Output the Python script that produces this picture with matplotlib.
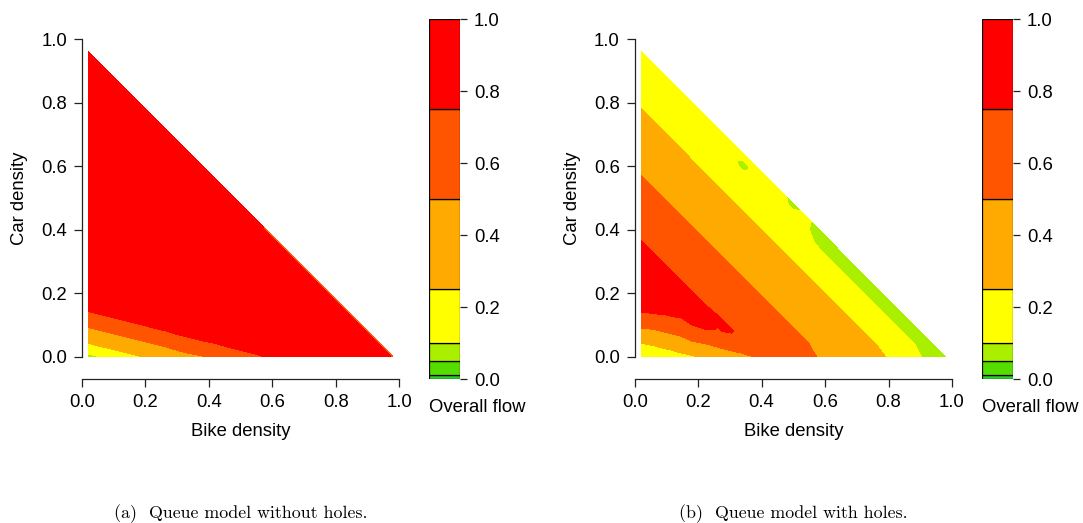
import numpy as np
import matplotlib
matplotlib.use('Agg')
import matplotlib.pyplot as plt
import matplotlib.tri as mtri
from matplotlib.ticker import FormatStrFormatter


# 1. Data
# bike   -   bike density of the grid columns
# car    -   car density of the grid rows
# each row j holds the overall flow (in percent) for bike[0 .. 24-j], so bike + car <= 0.98
bike = [0.02, 0.06, 0.10, 0.14, 0.18, 0.22, 0.26, 0.30, 0.34, 0.38, 0.42, 0.46, 0.50,
        0.54, 0.58, 0.62, 0.66, 0.70, 0.74, 0.78, 0.82, 0.86, 0.90, 0.94, 0.98]
car = [0.00, 0.04, 0.08, 0.12, 0.16, 0.20, 0.24, 0.28, 0.32, 0.36, 0.40, 0.44, 0.48,
       0.52, 0.56, 0.60, 0.64, 0.68, 0.72, 0.76, 0.80, 0.84, 0.88, 0.92, 0.96]

# (a) queue model without holes
flow_a = [
    [6, 11, 14, 19, 24, 29, 34, 40, 45, 49, 55, 60, 65, 70, 76, 90, 90, 90, 90, 90, 90, 90, 90, 90, 72],
    [24, 29, 34, 39, 44, 49, 54, 60, 65, 70, 74, 80, 85, 90, 90, 90, 90, 90, 90, 90, 90, 90, 90, 72],
    [44, 49, 54, 59, 64, 69, 74, 80, 85, 90, 90, 90, 90, 90, 90, 90, 90, 90, 90, 90, 90, 90, 72],
    [64, 69, 74, 79, 84, 90, 90, 90, 90, 90, 90, 90, 90, 90, 90, 90, 90, 90, 90, 90, 90, 72],
    [84, 89, 90, 90, 90, 90, 90, 90, 90, 90, 90, 90, 90, 90, 90, 90, 90, 90, 90, 90, 72],
    [90, 90, 90, 90, 90, 90, 90, 90, 90, 90, 90, 90, 90, 90, 90, 90, 90, 90, 90, 72],
    [90, 90, 90, 90, 90, 90, 90, 90, 90, 90, 90, 90, 90, 90, 90, 90, 90, 90, 72],
    [90, 90, 90, 90, 90, 90, 90, 90, 90, 90, 90, 90, 90, 90, 90, 90, 90, 72],
    [90, 90, 90, 90, 90, 90, 90, 90, 90, 90, 90, 90, 90, 90, 90, 90, 72],
    [90, 90, 90, 90, 90, 90, 90, 90, 90, 90, 90, 90, 90, 90, 90, 72],
    [90, 90, 90, 90, 90, 90, 90, 90, 90, 90, 90, 90, 90, 90, 72],
    [90, 90, 90, 90, 90, 90, 90, 90, 90, 90, 90, 90, 90, 90],
    [90, 90, 90, 90, 90, 90, 90, 90, 90, 90, 90, 90, 90],
    [90, 90, 90, 90, 90, 90, 90, 90, 90, 90, 90, 90],
    [90, 90, 90, 90, 90, 90, 90, 90, 90, 90, 90],
    [90, 90, 90, 90, 90, 90, 90, 90, 90, 90],
    [90, 90, 90, 90, 90, 90, 90, 90, 90],
    [90, 90, 90, 90, 90, 90, 90, 90],
    [90, 90, 90, 90, 90, 90, 90],
    [90, 90, 90, 90, 90, 90],
    [90, 90, 90, 90, 90],
    [90, 90, 90, 90],
    [90, 90, 90],
    [90, 90],
    [90],
]

# (b) queue model with holes
flow_b = [
    [9, 12, 16, 19, 23, 28, 34, 40, 45, 51, 57, 63, 61, 56, 49, 45, 40, 35, 30, 26, 22, 16, 10.2, 8.5, 7],
    [24, 27, 31, 37, 44, 49, 55, 60, 64, 68, 65, 61, 56, 51, 47, 42, 37, 32, 27, 23, 18, 12, 8.5, 7],
    [45, 47, 52, 57, 72, 74, 74, 77, 70, 65, 61, 56, 51, 47, 42, 37, 32, 27, 23, 18, 12, 8.5, 7],
    [65, 67, 70, 74, 78, 80, 77, 70, 65, 61, 56, 51, 47, 42, 37, 32, 27, 23, 18, 12, 8.5, 7],
    [85, 87, 88, 84, 80, 76, 70, 65, 61, 56, 51, 47, 42, 37, 32, 27, 23, 18, 12, 8.5, 7],
    [93, 88, 84, 80, 76, 70, 65, 61, 56, 51, 47, 42, 37, 32, 27, 23, 18, 12, 8.5, 7],
    [88, 84, 80, 76, 70, 65, 61, 56, 51, 47, 42, 37, 32, 27, 23, 18, 12, 8.5, 7],
    [84, 80, 76, 70, 65, 61, 56, 51, 47, 42, 37, 32, 27, 23, 18, 12, 8.5, 7],
    [80, 76, 70, 65, 61, 56, 51, 47, 42, 37, 32, 27, 23, 18, 12, 8.5, 7],
    [76, 70, 65, 61, 56, 51, 47, 42, 37, 32, 27, 23, 18, 13, 8.5, 7],
    [70, 65, 61, 56, 51, 47, 42, 37, 32, 27, 23, 18, 14, 11, 7],
    [65, 61, 56, 51, 47, 42, 37, 32, 27, 23, 18, 14, 13, 12],
    [61, 56, 51, 47, 42, 37, 32, 27, 23, 18, 14, 13, 8],
    [56, 51, 47, 42, 37, 32, 27, 23, 18, 14, 13, 12],
    [51, 47, 42, 37, 32, 27, 23, 18, 14, 13, 12],
    [47, 42, 37, 32, 27, 23, 18, 14, 8, 12],
    [42, 37, 32, 27, 23, 18, 14, 13, 12],
    [37, 32, 27, 23, 18, 14, 13, 12],
    [32, 27, 23, 18, 14, 13, 12],
    [27, 23, 18, 14, 13, 12],
    [23, 18, 14, 13, 12],
    [18, 14, 13, 12],
    [14, 13, 12],
    [13, 12],
    [12],
]

# colour levels of the overall flow and their colours
levels = [0, 0.01, 0.05, 0.1, 0.25, 0.5, 0.75, 1.0]
colors = ['#2ecc2e', '#55dd00', '#aaee00', '#ffff00', '#ffaa00', '#ff5500', '#ff0000']
cbar_ticks = [0.0, 0.2, 0.4, 0.6, 0.8, 1.0]
captions = ['(a)  Queue model without holes.', '(b)  Queue model with holes.']


# 2. Build a triangulation of the triangular domain
def triangulate(rows):
    xs, ys, zs, idx = [], [], [], {}
    for j, row in enumerate(rows):
        for i, val in enumerate(row):
            idx[(i, j)] = len(xs)
            xs.append(bike[i])
            ys.append(car[j])
            zs.append(val / 100.0)
    tris = []
    for (i, j) in idx:
        a, b, c, d = (i, j), (i + 1, j), (i, j + 1), (i + 1, j + 1)
        if b in idx and c in idx:
            tris.append([idx[a], idx[b], idx[c]])
            if d in idx:
                tris.append([idx[b], idx[d], idx[c]])
    return mtri.Triangulation(xs, ys, tris), np.array(zs)


# 3. Plot
plt.rcParams['font.family'] = ['Liberation Sans', 'DejaVu Sans']
fs = 13.3
W, H = 1083, 523
fig = plt.figure(figsize=(W / 100, H / 100), dpi=100)

def px(l, t, w, h):
    # pixel box (left, top, width, height) -> figure fraction
    return [l / W, 1 - (t + h) / H, w / W, h / H]

panels = [flow_a, flow_b]
ax_left = [82, 634.7]
cb_left = [429, 982]

for k in range(2):
    ax = fig.add_axes(px(ax_left[k], 39, 317.3, 340))
    tri, z = triangulate(panels[k])
    ax.tricontourf(tri, z, levels=levels, colors=colors)
    ax.set_xlim(0, 1)
    ax.set_ylim(-0.0702, 1.0)
    for s in ['top', 'right']:
        ax.spines[s].set_visible(False)
    ax.spines['left'].set_bounds(0, 1)
    ax.spines['bottom'].set_bounds(0, 1)
    for s in ['left', 'bottom']:
        ax.spines[s].set_linewidth(0.9)
        ax.spines[s].set_color('#222222')
    ax.set_xticks(cbar_ticks)
    ax.set_yticks(cbar_ticks)
    ax.xaxis.set_major_formatter(FormatStrFormatter('%.1f'))
    ax.yaxis.set_major_formatter(FormatStrFormatter('%.1f'))
    ax.tick_params(direction='out', length=5.8, width=0.9, color='#222222', pad=5, labelsize=fs)
    fig.text((ax_left[k] - 62) / W, 1 - 198 / H, 'Car density', rotation=90,
             ha='center', va='center', fontsize=fs)
    fig.text((ax_left[k] + 158.7) / W, 1 - 431 / H, 'Bike density',
             ha='center', va='center', fontsize=fs)

    # colour key
    cb = fig.add_axes(px(cb_left[k], 19, 31, 360))
    for n in range(len(colors)):
        cb.bar(0, levels[n + 1] - levels[n], bottom=levels[n], width=1, color=colors[n],
               edgecolor='black', linewidth=0.9)
    cb.set_xlim(-0.5, 0.5)
    cb.set_ylim(0, 1)
    for s in cb.spines.values():
        s.set_visible(False)
    cb.set_xticks([])
    cb.yaxis.tick_right()
    cb.set_yticks(cbar_ticks)
    cb.yaxis.set_major_formatter(FormatStrFormatter('%.1f'))
    cb.tick_params(direction='out', length=5, width=0.9, color='#222222', pad=5, labelsize=fs)
    fig.text(cb_left[k] / W, 1 - 412 / H, 'Overall flow', ha='left', va='baseline', fontsize=fs)

    # caption
    fig.text((ax_left[k] + 159) / W, 1 - 514 / H, captions[k], ha='center', va='center',
             fontsize=12.9, family='cmr10')

fig.savefig('out.png', dpi=100)
